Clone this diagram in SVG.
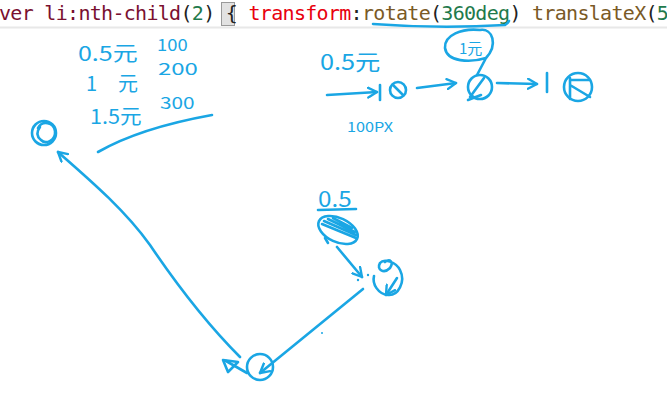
<svg xmlns="http://www.w3.org/2000/svg" width="667" height="417" viewBox="0 0 667 417">
<defs>
<style>
.ink{fill:none;stroke:#1aa6e4;stroke-width:2.6;stroke-linecap:round;stroke-linejoin:round}
.hw{fill:#1aa6e4;font-family:"Noto Sans CJK SC","Noto Sans",sans-serif}
.code{font-family:"DejaVu Sans Mono",monospace;font-size:20px;letter-spacing:-0.7px}
.m{fill:#7a1030}.g{fill:#1f7a4c}.r{fill:#e8000e}.b{fill:#7a5a26}.k{fill:#222}
</style>
<marker id="ah" viewBox="0 0 12 12" refX="10" refY="6" markerWidth="12" markerHeight="12" markerUnits="userSpaceOnUse" orient="auto">
<path d="M1,1 L10,6 L1,11" fill="none" stroke="#1aa6e4" stroke-width="2.4" stroke-linecap="round" stroke-linejoin="round"/>
</marker>
</defs>
<rect width="667" height="417" fill="#fff"/>
<g id="code-line">
<line x1="0" y1="27.5" x2="667" y2="27.5" stroke="#e8e8e8" stroke-width="2"/>
<rect x="221.5" y="2.5" width="13" height="23" fill="#e2e2e2" stroke="#9a9a9a" stroke-width="1"/>
<text class="code" x="-1" y="20"><tspan class="m">ver li:nth-child</tspan><tspan class="k">(</tspan><tspan class="g">2</tspan><tspan class="k">) { </tspan><tspan class="r">transform</tspan><tspan class="k">:</tspan><tspan class="b">rotate</tspan><tspan class="k">(</tspan><tspan class="g">360deg</tspan><tspan class="k">) </tspan><tspan class="b">translateX</tspan><tspan class="k">(</tspan><tspan class="g">5</tspan></text>
<path class="ink" d="M373,24 Q440,29 505,25 Q508,23 509,21" stroke-width="2.2"/>
</g>
<g id="table-notes">
<text class="hw" font-size="20" transform="translate(78,61) scale(1.25,1)">0.5元</text>
<text class="hw" font-size="16" transform="translate(157,51) scale(1.15,1)">100</text>
<text class="hw" x="86" y="91" font-size="20">1</text>
<text class="hw" x="118" y="91" font-size="20">元</text>
<text class="hw" font-size="16" transform="translate(158,75) scale(1.5,1)">200</text>
<text class="hw" font-size="20" transform="translate(90,124) scale(1.08,1)">1.5元</text>
<text class="hw" font-size="16" transform="translate(160,109) scale(1.3,1)">300</text>
<path class="ink" d="M98,152 Q140,128 212,115" stroke-width="3"/>
</g>
<g id="top-label">
<text class="hw" font-size="22" transform="translate(320,70) scale(1.15,1)">0.5元</text>
<text class="hw" font-size="13" transform="translate(347,132) scale(1.25,1)">100PX</text>
</g>
<g id="bubble">
<path class="ink" d="M486,58 C498,45 493,28 480,30 C462,28 444,35 445,48 C447,62 470,63 486,58 L477,75"/>
<text class="hw" x="459" y="54" font-size="15">1元</text>
</g>
<g id="node-start">
<path class="ink" d="M380,85 L380,100"/>
</g>
<g id="node-a">
<circle class="ink" cx="398" cy="90" r="8"/>
<path class="ink" d="M393,85 L403,95"/>
</g>
<g id="node-b">
<circle class="ink" cx="480" cy="87" r="12"/>
<path class="ink" d="M484,78 L470,97 M468,100 L481,95"/>
</g>
<g id="node-bar">
<path class="ink" d="M547,73 L547,92"/>
</g>
<g id="node-c">
<circle class="ink" cx="578" cy="87" r="14"/>
<path class="ink" d="M570,78 L570,99 M570,80 L589,80 M570,85 L590,97"/>
</g>
<g id="node-d">
<text class="hw" font-size="22" transform="translate(318,207) scale(1.1,1)">0.5</text>
<path class="ink" d="M318,210 L356,209"/>
<ellipse class="ink" cx="338" cy="230" rx="21" ry="12" transform="rotate(25 338 230)"/>
<path class="ink" d="M322,224 L356,238 M324,221 L356,235 M328,219 L355,232 M333,218 L352,228" stroke-width="3.6"/>
<path class="ink" d="M325,238 L328,243"/>
</g>
<g id="node-e">
<path class="ink" d="M385,262 C390,258 394,262 390,268 C384,274 376,270 380,263 C384,258 396,262 400,270 C406,282 398,296 388,295 C378,294 372,284 374,276"/>
<circle cx="358" cy="280" r="1.2" fill="#1aa6e4"/>
<circle cx="368" cy="275" r="1.2" fill="#1aa6e4"/>
<circle cx="322" cy="333" r="1" fill="#1aa6e4"/>
</g>
<g id="node-f">
<circle class="ink" cx="260" cy="367" r="13"/>
</g>
<g id="node-g">
<circle class="ink" cx="44" cy="133" r="12"/>
<path class="ink" d="M38,128 C42,120 54,122 55,131 C56,140 46,145 41,140 C36,136 37,131 40,127"/>
</g>
<g id="connectors">
<path class="ink" d="M327,95 L377,92" marker-end="url(#ah)"/>
<path class="ink" d="M417,88 L456,83" marker-end="url(#ah)"/>
<path class="ink" d="M497,83 L537,84" marker-end="url(#ah)"/>
<path class="ink" d="M337,247 L362,277" marker-end="url(#ah)"/>
<path class="ink" d="M397,278 L386,295" marker-end="url(#ah)"/>
<path class="ink" d="M363,289 L260,373" marker-end="url(#ah)"/>
<path class="ink" d="M247,373 L226,361"/>
<path class="ink" d="M223,360 L238,362 L228,372 Z"/>
<path class="ink" d="M240,357 C205,322 175,282 150,245 C125,210 90,180 58,152" marker-end="url(#ah)"/>
</g>
</svg>
